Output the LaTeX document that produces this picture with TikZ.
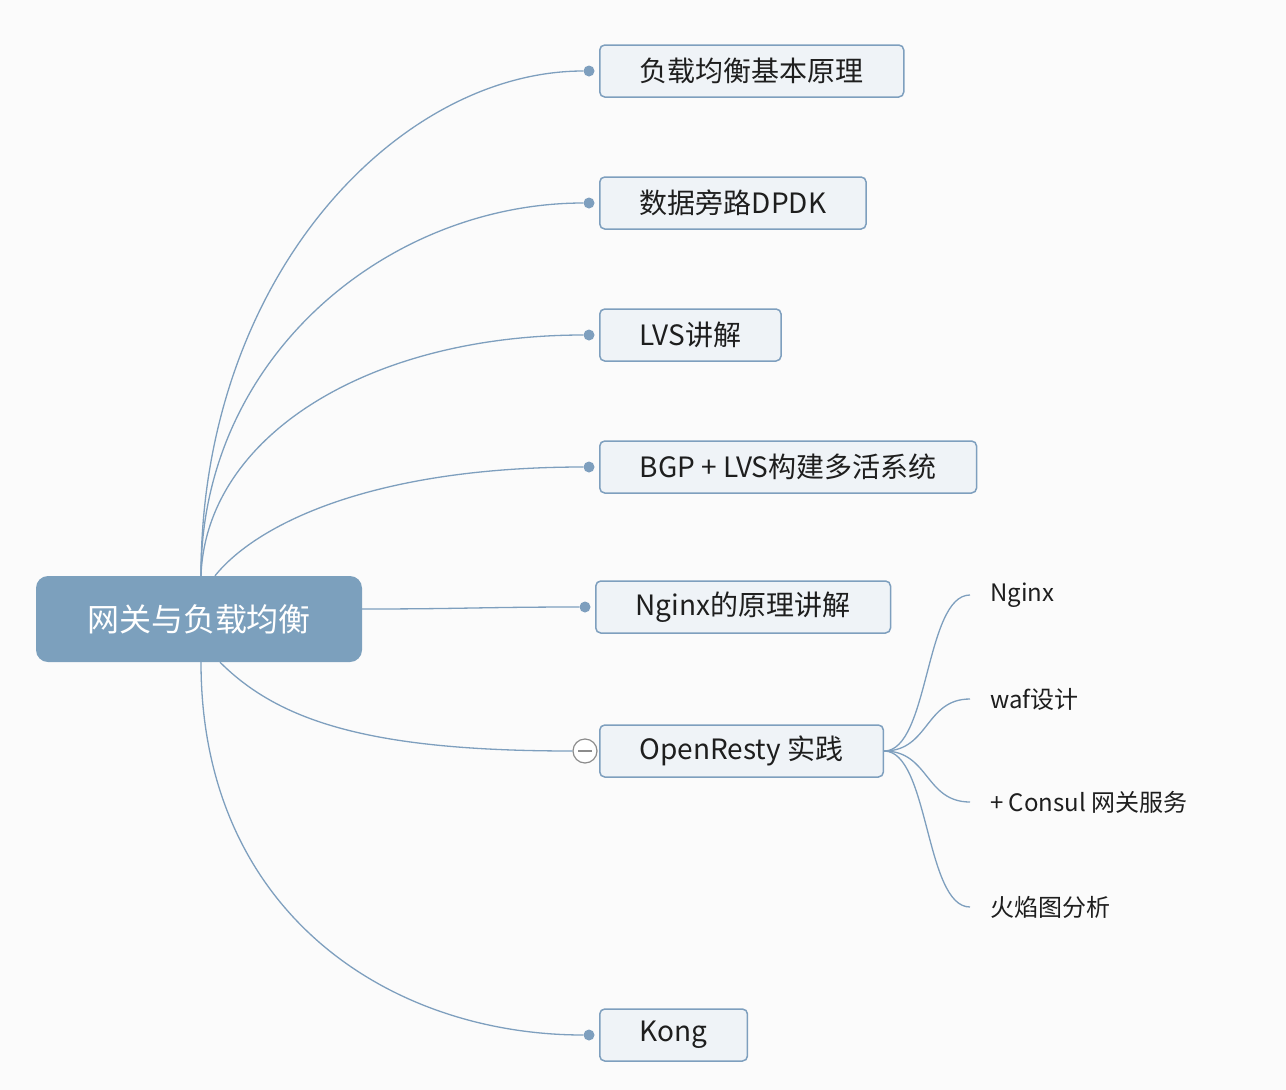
\documentclass[tikz,border=0pt]{standalone}
\usepackage{fontspec}
\setmainfont{Noto Sans CJK SC}
\usepackage{xcolor}
\usetikzlibrary{positioning,calc}
\definecolor{linkblue}{HTML}{7E9FBE}
\definecolor{rootblue}{HTML}{7CA0BD}
\definecolor{boxfill}{HTML}{EFF3F7}
\definecolor{pagebg}{HTML}{FBFBFB}
\definecolor{ink}{HTML}{1E1E1E}

\begin{document}
\begin{tikzpicture}[x=1pt, y=-1pt,
    root/.style={rectangle, rounded corners=12pt, fill=rootblue, text=white, minimum width=326pt, minimum height=86pt, font=\fontsize{32}{38}\selectfont},
    topic/.style={rectangle, rounded corners=5pt, draw=linkblue, line width=1.5pt, fill=boxfill, text=ink, anchor=west, minimum height=52pt, inner xsep=40pt, font=\fontsize{28}{32}\selectfont},
    leaf/.style={anchor=west, inner xsep=20pt, text=ink, font=\fontsize{24}{28}\selectfont},
    knot/.style={circle, fill=linkblue, inner sep=0pt, minimum size=11pt},
    fold/.style={circle, draw=gray!90, fill=white, line width=1.2pt, inner sep=0pt, minimum size=24pt},
    link/.style={draw=linkblue, line width=1.3pt}
]
    \fill[pagebg] (0,0) rectangle (1286,1090);
    \useasboundingbox (0,0) rectangle (1286,1090);

    % Root
    \node[root] (root) at (199,619) {网关与负载均衡};

    % Topics
    \node[knot] (d1) at (589,71) {};
    \node[topic] (t1) at (599,71) {负载均衡基本原理};
    \node[knot] (d2) at (589,203) {};
    \node[topic] (t2) at (599,203) {数据旁路DPDK};
    \node[knot] (d3) at (589,335) {};
    \node[topic] (t3) at (599,335) {LVS讲解};
    \node[knot] (d4) at (589,467) {};
    \node[topic] (t4) at (599,467) {BGP + LVS构建多活系统};
    \node[knot] (d5) at (585,607) {};
    \node[topic] (t5) at (595,607) {Nginx的原理讲解};
    \node[fold] (d6) at (585,751) {};
    \node[topic] (t6) at (599,751) {OpenResty 实践};
    \node[knot] (d7) at (589,1035) {};
    \node[topic] (t7) at (599,1035) {Kong};
    \draw[gray!90, line width=1.5pt] ([xshift=-7pt]d6.center) -- ([xshift=7pt]d6.center);

    % Links from root
    \draw[link] ([xshift=2pt]root.north) .. controls +(0,-300) and +(-190,0) .. (d1);
    \draw[link] ([xshift=2pt]root.north) .. controls +(0,-220) and +(-200,0) .. (d2);
    \draw[link] ([xshift=2pt]root.north) .. controls +(5,-140) and +(-220,0) .. (d3);
    \draw[link] ([xshift=16pt]root.north) .. controls +(40,-50) and +(-220,0) .. (d4);
    \draw[link] ([yshift=10pt]root.east) .. controls +(100,0) and +(-100,0) .. (d5);
    \draw[link] ([xshift=21pt]root.south) .. controls +(60,60) and +(-200,0) .. (d6.west);
    \draw[link] ([xshift=2pt]root.south) .. controls +(0,250) and +(-200,0) .. (d7);

    % OpenResty leaves
    \node[leaf] (l1) at (970,595) {Nginx};
    \node[leaf] (l2) at (970,699) {waf设计};
    \node[leaf] (l3) at (970,802) {+ Consul 网关服务};
    \node[leaf] (l4) at (970,907) {火焰图分析};
    \foreach \n in {l1,l2,l3,l4}
        \draw[link] (t6.east) .. controls +(45,0) and +(-45,0) .. (\n.west);
\end{tikzpicture}
\end{document}
